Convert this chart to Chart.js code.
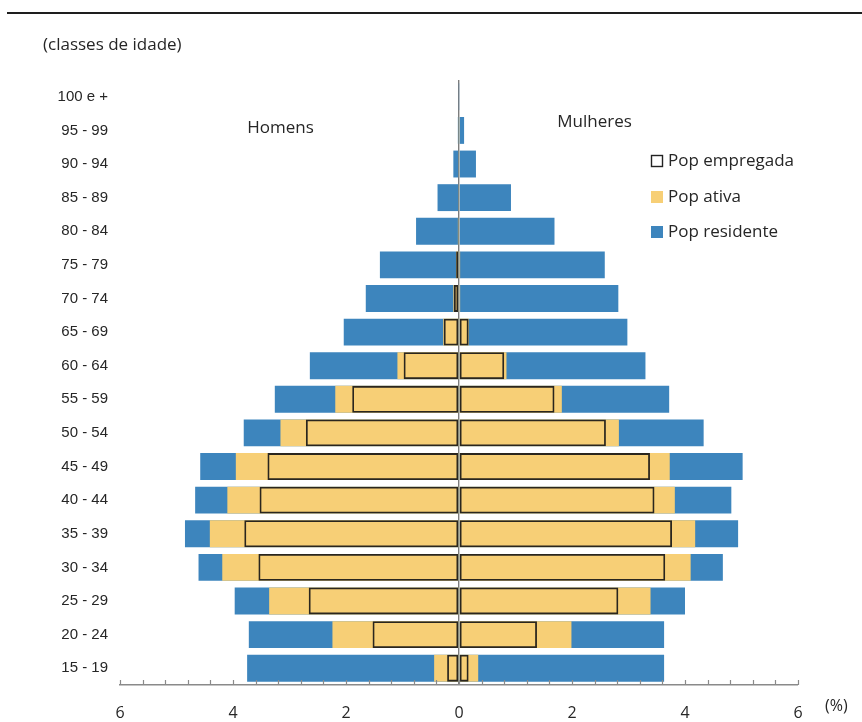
<!DOCTYPE html>
<html>
<head>
<meta charset="utf-8">
<script src="https://cdn.jsdelivr.net/npm/chart.js@4.4.0/dist/chart.umd.min.js"></script>
<style>
  html, body { margin: 0; padding: 0; background: #ffffff; }
  #wrap { width: 862px; height: 722px; position: relative; }
</style>
</head>
<body>
<div id="wrap"><canvas id="c" width="862" height="722"></canvas></div>
<script>
// ---- Data (percent of total population) ----
const ageGroups = ['100 e +', '95 - 99', '90 - 94', '85 - 89', '80 - 84', '75 - 79', '70 - 74', '65 - 69',
  '60 - 64', '55 - 59', '50 - 54', '45 - 49', '40 - 44', '35 - 39', '30 - 34', '25 - 29', '20 - 24', '15 - 19'];

const menResidente   = [0.01, 0.02, 0.10, 0.38, 0.76, 1.40, 1.65, 2.04, 2.64, 3.26, 3.81, 4.58, 4.67, 4.85, 4.61, 3.97, 3.72, 3.75];
const menAtiva       = [0, 0.01, 0.01, 0.01, 0.02, 0.05, 0.10, 0.28, 1.09, 2.19, 3.16, 3.95, 4.10, 4.41, 4.19, 3.36, 2.24, 0.44];
const menEmpregada   = [0, 0.01, 0.01, 0.01, 0.02, 0.05, 0.09, 0.27, 0.98, 1.89, 2.71, 3.39, 3.53, 3.80, 3.55, 2.66, 1.53, 0.21];

const womenResidente = [0.01, 0.09, 0.30, 0.92, 1.69, 2.58, 2.82, 2.98, 3.30, 3.72, 4.33, 5.02, 4.82, 4.94, 4.67, 4.00, 3.63, 3.63];
const womenAtiva     = [0, 0.01, 0.01, 0.01, 0.01, 0.02, 0.02, 0.17, 0.84, 1.82, 2.83, 3.73, 3.82, 4.18, 4.10, 3.39, 1.99, 0.34];
const womenEmpregada = [0, 0.01, 0.01, 0.01, 0.01, 0.02, 0.01, 0.17, 0.80, 1.69, 2.60, 3.38, 3.46, 3.77, 3.65, 2.82, 1.38, 0.17];

const xTickValues = [-6, -4, -2, 0, 2, 4, 6];
const seriesNames = ['Pop empregada', 'Pop ativa', 'Pop residente'];
const sideLabels = ['Homens', 'Mulheres'];

// ---- Styles ----
const BLUE = '#3d85bd';
const YELLOW = '#f7cf76';
const BOX = '#2a261e';
const TEXT = '#262626';
const FONT = '"Open Sans", "Liberation Sans", sans-serif';

const neg = a => a.map(v => -v);

function barDs(label, data, bg, border, bw) {
  return {
    label, data,
    backgroundColor: bg,
    borderColor: border,
    borderWidth: bw,
    borderSkipped: false,
    grouped: false,
    barPercentage: 0.8,
    categoryPercentage: 1.0
  };
}

const datasets = [
  barDs(seriesNames[0], neg(menEmpregada), 'rgba(0,0,0,0)', BOX, 1.8),
  barDs(seriesNames[0], womenEmpregada, 'rgba(0,0,0,0)', BOX, 1.8),
  barDs(seriesNames[1], neg(menAtiva), YELLOW, YELLOW, 0),
  barDs(seriesNames[1], womenAtiva, YELLOW, YELLOW, 0),
  barDs(seriesNames[2], neg(menResidente), BLUE, BLUE, 0),
  barDs(seriesNames[2], womenResidente, BLUE, BLUE, 0)
];

// minor tick positions every 0.4 between -6 and 6
function buildXTicks(scale) {
  const t = [];
  for (let k = 0; k <= 30; k++) t.push({ value: Math.round((-6 + 0.4 * k) * 10) / 10 });
  scale.ticks = t;
}

const decorPlugin = {
  id: 'decor',
  afterDraw(chart) {
    const ctx = chart.ctx;
    const xs = chart.scales.x;
    const ys = chart.scales.y;
    const area = chart.chartArea;
    ctx.save();
    // inward tick marks on the x axis
    ctx.strokeStyle = '#8a8a8a';
    ctx.lineWidth = 1.2;
    ctx.beginPath();
    xs.ticks.forEach(t => {
      const px = Math.round(xs.getPixelForValue(t.value)) + 0.5;
      ctx.moveTo(px, area.bottom);
      ctx.lineTo(px, area.bottom - 5);
    });
    ctx.stroke();

    // top rule
    ctx.strokeStyle = '#1e1e1e';
    ctx.lineWidth = 2;
    ctx.beginPath(); ctx.moveTo(7, 13); ctx.lineTo(862, 13); ctx.stroke();

    ctx.fillStyle = TEXT;
    ctx.textBaseline = 'middle';
    ctx.textAlign = 'left';
    ctx.font = '17px ' + FONT;
    ctx.fillText('(classes de idade)', 43, 45);

    // side labels
    ctx.font = '17px ' + FONT;
    ctx.textAlign = 'center';
    ctx.fillText(sideLabels[0], xs.getPixelForValue(-3.16), ys.getPixelForValue(1) - 2);
    ctx.fillText(sideLabels[1], xs.getPixelForValue(2.4), ys.getPixelForValue(1) - 8);

    // (%) unit
    ctx.textAlign = 'left';
    ctx.font = '16px ' + FONT;
    ctx.fillText('(%)', 825, 706);

    // legend
    const lx = 651, lys = [161, 197, 232];
    const fills = ['#ffffff', YELLOW, BLUE];
    ctx.font = '17px ' + FONT;
    for (let i = 0; i < 3; i++) {
      const y = lys[i];
      ctx.fillStyle = fills[i];
      ctx.fillRect(lx, y - 6, 12, 12);
      if (i === 0) {
        ctx.strokeStyle = '#222';
        ctx.lineWidth = 1.4;
        ctx.strokeRect(lx + 0.5, y - 5.5, 11, 11);
      }
      ctx.fillStyle = TEXT;
      ctx.textAlign = 'left';
      ctx.fillText(seriesNames[i], lx + 17, y);
    }
    ctx.restore();
  }
};

new Chart(document.getElementById('c'), {
  type: 'bar',
  data: { labels: ageGroups, datasets },
  options: {
    indexAxis: 'y',
    responsive: false,
    animation: false,
    maintainAspectRatio: false,
    layout: { padding: { top: 80, right: 64, left: 0, bottom: 0 } },
    plugins: {
      legend: { display: false },
      tooltip: { enabled: false }
    },
    scales: {
      x: {
        type: 'linear',
        min: -6, max: 6,
        z: 1,
        afterBuildTicks: buildXTicks,
        afterFit: s => { s.height = 37; },
        border: { display: true, color: '#8a8a8a', width: 1.5 },
        grid: {
          color: c => (c.tick && c.tick.value === 0) ? '#7d7d7d' : 'rgba(0,0,0,0)',
          lineWidth: c => (c.tick && c.tick.value === 0) ? 1.4 : 0,
          drawTicks: false
        },
        ticks: {
          autoSkip: false,
          maxRotation: 0,
          padding: 19,
          color: TEXT,
          font: { family: FONT, size: 16 },
          callback: v => xTickValues.some(t => Math.abs(t - v) < 1e-6) ? String(Math.abs(Math.round(v))) : ''
        }
      },
      y: {
        type: 'category',
        afterFit: s => { s.width = 120; },
        border: { display: false },
        grid: { display: false, drawTicks: false },
        ticks: {
          padding: 12,
          color: TEXT,
          font: { family: '"Liberation Sans", Arial, sans-serif', size: 15 }
        }
      }
    }
  },
  plugins: [decorPlugin]
});
</script>
</body>
</html>
